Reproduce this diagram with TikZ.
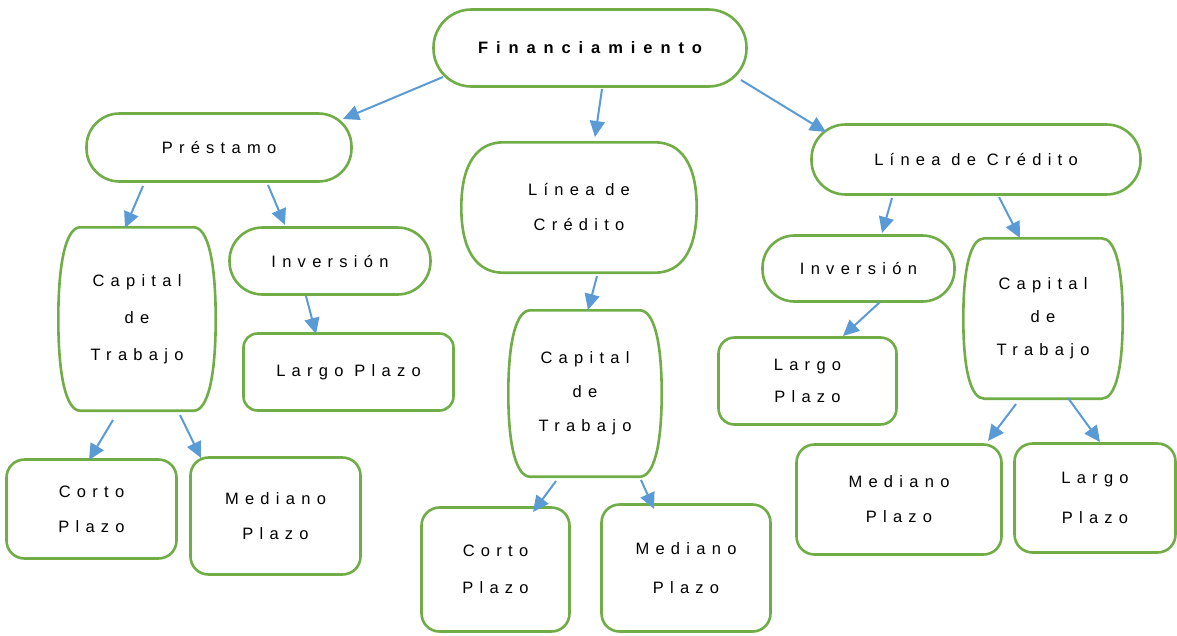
\documentclass[tikz,border=0pt]{standalone}
\usepackage{fontspec}
\setmainfont{Liberation Sans}
\newfontfamily\spaced[LetterSpace=38]{Liberation Sans}
\newfontfamily\spacedwide[LetterSpace=48]{Liberation Sans}
\usetikzlibrary{arrows.meta}
\definecolor{boxgreen}{HTML}{70AD47}
\definecolor{linkblue}{HTML}{5B9BD5}
\tikzset{
  boxline/.style={draw=boxgreen, line width=2.6pt},
  box/.style={boxline, fill=white, inner sep=0pt,
    align=center, text=black, font=\spaced\fontsize{16.5}{36}\selectfont},
  bare/.style={draw=none, fill=none, inner sep=0pt,
    align=center, text=black, font=\spaced\fontsize{16.5}{36}\selectfont},
  lines/.style={font=\spaced\fontsize{16.5}{#1}\selectfont},
  link/.style={draw=linkblue, line width=2pt, -{Triangle[length=16pt,width=15pt]}},
}
% outline with straight top and bottom and curved sides:
% #1 node, #2 inset of the straight edges, #3 corner handle, #4 side handle
\newcommand\curvedbox[4]{%
  \draw[boxline] ([xshift=#2pt]#1.north west) -- ([xshift=-#2pt]#1.north east)
    .. controls +(#3,0) and +(0,-#4) .. (#1.east)
    .. controls +(0,#4) and +(#3,0) .. ([xshift=-#2pt]#1.south east)
    -- ([xshift=#2pt]#1.south west)
    .. controls +(-#3,0) and +(0,#4) .. (#1.west)
    .. controls +(0,-#4) and +(-#3,0) .. cycle;}
\begin{document}
\begin{tikzpicture}[x=1pt,y=-1pt]
\useasboundingbox (0,0) rectangle (1177,635);

% top level
\node[box, minimum width=313pt, minimum height=77pt, rounded corners=38pt,
  font=\spacedwide\bfseries\fontsize{16.5}{36}\selectfont] (fin) at (590,48) {Financiamiento};

% second level
\node[box, minimum width=265pt, minimum height=68pt, rounded corners=33pt] (pre) at (219,147.5) {Préstamo};
\node[bare, minimum width=235pt, minimum height=130pt, lines=35] (ldcc) at (579,207.5) {Línea de\\Crédito};
\curvedbox{ldcc}{42}{26}{44}
\node[box, minimum width=329pt, minimum height=70pt, rounded corners=34pt] (ldcr) at (976,159.5) {Línea de Crédito};

% left branch
\node[bare, minimum width=157pt, minimum height=183pt, lines=37] (capl) at (137,319) {Capital\\de\\Trabajo};
\curvedbox{capl}{22}{14}{58}
\node[box, minimum width=201pt, minimum height=67pt, rounded corners=33pt] (invl) at (330,261) {Inversión};
\node[box, minimum width=210pt, minimum height=77pt, rounded corners=14pt] (larl) at (348.5,372) {Largo Plazo};
\node[box, minimum width=170pt, minimum height=99pt, rounded corners=18pt, lines=35] (corl) at (91.5,509) {Corto\\Plazo};
\node[box, minimum width=170pt, minimum height=117pt, rounded corners=18pt, lines=35] (medl) at (275.5,516) {Mediano\\Plazo};

% centre branch
\node[bare, minimum width=153pt, minimum height=166pt, lines=34] (capc) at (585,393.5) {Capital\\de\\Trabajo};
\curvedbox{capc}{22}{14}{53}
\node[box, minimum width=148pt, minimum height=124pt, rounded corners=18pt, lines=37] (corc) at (495.5,569.5) {Corto\\Plazo};
\node[box, minimum width=169pt, minimum height=127pt, rounded corners=18pt, lines=39] (medc) at (686,568) {Mediano\\Plazo};

% right branch
\node[box, minimum width=192pt, minimum height=66pt, rounded corners=32pt] (invr) at (858.5,268.5) {Inversión};
\node[box, minimum width=178pt, minimum height=87pt, rounded corners=16pt, lines=32] (larr) at (807.5,381) {Largo\\Plazo};
\node[bare, minimum width=159pt, minimum height=160pt, lines=33] (capr) at (1043,318.5) {Capital\\de\\Trabajo};
\curvedbox{capr}{21}{14}{50}
\node[box, minimum width=205pt, minimum height=110pt, rounded corners=18pt, lines=35] (medr) at (899,499.5) {Mediano\\Plazo};
\node[box, minimum width=161pt, minimum height=109pt, rounded corners=18pt, lines=40] (larfr) at (1095,498) {Largo\\Plazo};

% connectors
\draw[link] ([shift={(-147,29)}]fin.center) -- ([shift={(124,-28.5)}]pre.center);
\draw[link] ([shift={(12,41)}]fin.center) -- ([shift={(16,-70.5)}]ldcc.center);
\draw[link] ([shift={(151,32)}]fin.center) -- ([shift={(-150,-27.5)}]ldcr.center);

\draw[link] ([shift={(-76,38.5)}]pre.center) -- ([shift={(-12,-91)}]capl.center);
\draw[link] ([shift={(49,37.5)}]pre.center) -- ([shift={(-45,-36)}]invl.center);
\draw[link] ([shift={(-24,35)}]invl.center) -- ([shift={(-32.5,-38)}]larl.center);
\draw[link] ([shift={(-24,101)}]capl.center) -- ([shift={(-2.5,-49)}]corl.center);
\draw[link] ([shift={(43,96)}]capl.center) -- ([shift={(-74.5,-58)}]medl.center);

\draw[link] ([shift={(18,68.5)}]ldcc.center) -- ([shift={(3,-83.5)}]capc.center);
\draw[link] ([shift={(-29,87.5)}]capc.center) -- ([shift={(37.5,-57.5)}]corc.center);
\draw[link] ([shift={(56,86.5)}]capc.center) -- ([shift={(-32,-59)}]medc.center);

\draw[link] ([shift={(-84,38.5)}]ldcr.center) -- ([shift={(23.5,-35.5)}]invr.center);
\draw[link] ([shift={(23,37.5)}]ldcr.center) -- ([shift={(-23,-80.5)}]capr.center);
\draw[link] ([shift={(21.5,33.5)}]invr.center) -- ([shift={(35.5,-45)}]larr.center);
\draw[link] ([shift={(-27,85.5)}]capr.center) -- ([shift={(89,-58.5)}]medr.center);
\draw[link] ([shift={(25,79.5)}]capr.center) -- ([shift={(5,-56)}]larfr.center);
\end{tikzpicture}
\end{document}
